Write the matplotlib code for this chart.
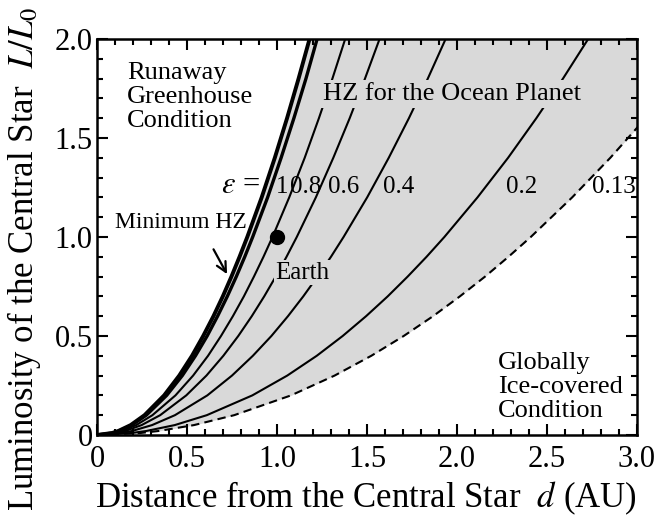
import matplotlib
matplotlib.use("Agg")
import matplotlib.pyplot as plt
from matplotlib.ticker import MultipleLocator, FixedLocator

plt.rcParams['font.family'] = ['Liberation Serif', 'DejaVu Serif']
plt.rcParams['mathtext.fontset'] = 'stix'

# luminosity levels (L/L0) at which the distance of each curve was read
lum = [0, 0.01, 0.02, 0.05, 0.1, 0.2, 0.3, 0.4, 0.5, 0.6, 0.7, 0.8, 0.9,
       1.0, 1.2, 1.4, 1.6, 1.8, 2.0]

# distance d (AU) of each curve at those luminosities
d_min_hz = [0, 0.084, 0.118, 0.187, 0.264, 0.373, 0.457, 0.528, 0.590, 0.647,
            0.699, 0.747, 0.792, 0.835, 0.915, 0.988, 1.056, 1.120, 1.181]
d_eps_10 = [0, 0.087, 0.122, 0.193, 0.274, 0.387, 0.474, 0.547, 0.612, 0.670,
            0.724, 0.774, 0.821, 0.865, 0.948, 1.023, 1.094, 1.161, 1.223]
d_eps_08 = [0, 0.098, 0.138, 0.218, 0.308, 0.436, 0.534, 0.617, 0.689, 0.755,
            0.816, 0.872, 0.925, 0.975, 1.068, 1.154, 1.233, 1.308, 1.379]
d_eps_06 = [0, 0.111, 0.157, 0.248, 0.351, 0.496, 0.608, 0.702, 0.785, 0.860,
            0.929, 0.993, 1.053, 1.110, 1.216, 1.313, 1.404, 1.489, 1.570]
d_eps_04 = [0, 0.137, 0.194, 0.306, 0.433, 0.613, 0.750, 0.866, 0.969, 1.061,
            1.146, 1.225, 1.300, 1.370, 1.501, 1.621, 1.733, 1.838, 1.937]
d_eps_02 = [0, 0.193, 0.273, 0.432, 0.610, 0.863, 1.057, 1.221, 1.365, 1.495,
            1.615, 1.726, 1.831, 1.930, 2.114, 2.284, 2.441, 2.589, 2.729]
d_eps_013 = [0, 0.241, 0.341, 0.539, 0.762, 1.078, 1.320, 1.524, 1.704, 1.867,
             2.016, 2.156, 2.286, 2.410, 2.640, 2.852, 3.048, 3.233, 3.408]

eps_labels = ["1", "0.8", "0.6", "0.4", "0.2", "0.13"]
eps_label_x = [0.995, 1.075, 1.285, 1.59, 2.27, 2.75]

earth_d = [1.0]
earth_L = [1.0]

gray = "#d9d9d9"

fig = plt.figure(figsize=(6.62, 5.21), dpi=100)
ax = fig.add_axes([0.1465, 0.1651, 0.8157, 0.7601])

ax.fill_betweenx(lum, d_min_hz, d_eps_013, color=gray, lw=0)

for d in [d_eps_08, d_eps_06, d_eps_04, d_eps_02]:
    ax.plot(d, lum, color="k", lw=1.5)
ax.plot(d_eps_013, lum, color="k", lw=1.5, dashes=(4, 2.5))
ax.plot(d_eps_10, lum, color="k", lw=2.4)
ax.plot(d_min_hz, lum, color="k", lw=2.8)

ax.plot(earth_d, earth_L, "o", color="k", ms=10)

ax.set_xlim(0, 3.0)
ax.set_ylim(0, 2.0)
ax.xaxis.set_major_locator(FixedLocator([0, 0.5, 1.0, 1.5, 2.0, 2.5, 3.0]))
ax.yaxis.set_major_locator(FixedLocator([0, 0.5, 1.0, 1.5, 2.0]))
ax.xaxis.set_minor_locator(MultipleLocator(0.1))
ax.yaxis.set_minor_locator(MultipleLocator(0.1))
ax.set_xticklabels(["0", "0.5", "1.0", "1.5", "2.0", "2.5", "3.0"])
ax.set_yticklabels(["0", "0.5", "1.0", "1.5", "2.0"])
ax.tick_params(which="both", direction="in", top=True, right=True, width=1.5)
ax.tick_params(which="major", length=8)
ax.tick_params(which="minor", length=4.5)
ax.tick_params(axis="x", labelsize=22, pad=7)
ax.tick_params(axis="y", labelsize=22, pad=3)
for sp in ax.spines.values():
    sp.set_linewidth(1.8)

# region texts (y is the baseline of the last line)
ax.text(0.167, 1.556, "Runaway\nGreenhouse\nCondition", fontsize=19,
        ha="left", va="baseline", linespacing=1.12)
ax.text(2.228, 0.091, "Globally\nIce-covered\nCondition", fontsize=19,
        ha="left", va="baseline", linespacing=1.12)
ax.text(1.256, 1.69, "HZ for the Ocean Planet", fontsize=19, ha="left",
        va="baseline", bbox=dict(fc=gray, ec="none", pad=2))
ax.text(0.99, 0.79, "Earth", fontsize=18, ha="left", va="baseline",
        bbox=dict(fc=gray, ec="none", pad=1))
ax.text(0.10, 1.045, "Minimum HZ", fontsize=17, ha="left", va="baseline")
ax.annotate("", xy=(0.73, 0.80), xytext=(0.64, 0.95),
            arrowprops=dict(arrowstyle="->,head_length=0.7,head_width=0.35",
                            lw=1.6, color="k"))

ax.text(0.69, 1.22, r"$\varepsilon$ =", fontsize=22, ha="left", va="baseline")
for lab, x in zip(eps_labels, eps_label_x):
    ax.text(x, 1.22, lab, fontsize=18, ha="left", va="baseline", clip_on=False)

fig.text(366 / 662, 1 - 507 / 521, r"Distance from the Central Star  $d$ (AU)",
         fontsize=25, ha="center", va="baseline")
fig.text(24 / 662, 262 / 521, r"Luminosity of the Central Star  $L/L_0$",
         fontsize=25, ha="center", va="center", rotation=90)

fig.savefig("out.png", dpi=100)
